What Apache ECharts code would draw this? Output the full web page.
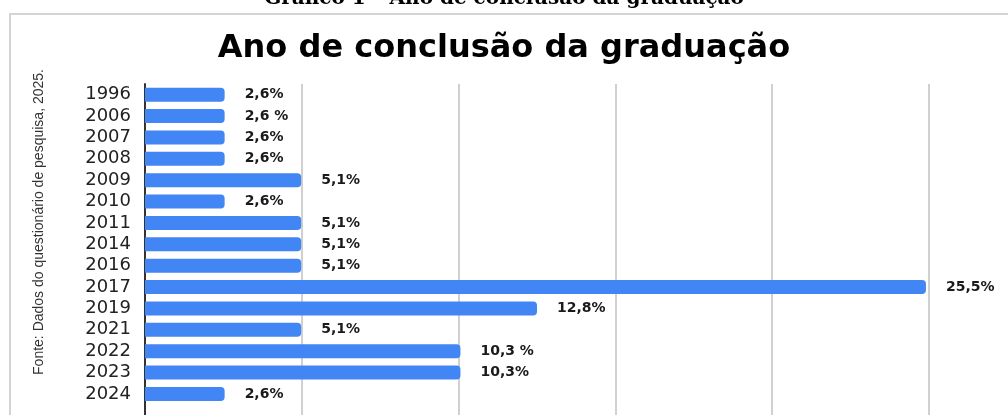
<!DOCTYPE html>
<html>
<head>
<meta charset="utf-8">
<script src="https://cdn.jsdelivr.net/npm/echarts@6/dist/echarts.min.js"></script>
<style>
html,body{margin:0;padding:0;background:#fff;overflow:hidden;}
#chart{width:1008px;height:440px;}
</style>
</head>
<body>
<div id="chart"></div>
<script>
const categories = ['1996','2006','2007','2008','2009','2010','2011','2014','2016','2017','2019','2021','2022','2023','2024'];
const values = [2.6, 2.6, 2.6, 2.6, 5.1, 2.6, 5.1, 5.1, 5.1, 25.5, 12.8, 5.1, 10.3, 10.3, 2.6];
const valueLabels = ['2,6%','2,6 %','2,6%','2,6%','5,1%','2,6%','5,1%','5,1%','5,1%','25,5%','12,8%','5,1%','10,3 %','10,3%','2,6%'];
const titleText = 'Ano de conclusão da graduação';
const captionBold = 'Gráfico 1';
const captionRest = ' – Ano de conclusão da graduação';
const sourceText = 'Fonte: Dados do questionário de pesquisa, 2025.';

const chart = echarts.init(document.getElementById('chart'), null, {renderer: 'canvas'});
chart.setOption({
  backgroundColor: '#ffffff',
  animation: false,
  title: [
    {
      text: titleText,
      left: 'center',
      top: 28,
      textStyle: {fontFamily: 'DejaVu Sans', fontWeight: 'bold', fontSize: 32, color: '#000'}
    },
    {
      text: '{b|' + captionBold + '}{r|' + captionRest + '}',
      left: 'center',
      top: -16,
      textStyle: {
        rich: {
          b: {fontFamily: 'DejaVu Serif', fontWeight: 'bold', fontSize: 20, color: '#000'},
          r: {fontFamily: 'DejaVu Serif', fontSize: 20, color: '#000'}
        }
      }
    }
  ],
  graphic: [
    {
      type: 'rect',
      shape: {x: 10, y: 14, width: 1010, height: 440},
      style: {fill: 'none', stroke: '#d4d4d4', lineWidth: 2},
      z: 0
    },
    {
      type: 'text',
      x: 39,
      y: 222,
      rotation: Math.PI / 2,
      style: {
        text: sourceText,
        font: '14px "Liberation Sans"',
        fill: '#333',
        textAlign: 'center',
        textVerticalAlign: 'middle'
      }
    }
  ],
  grid: {left: 145, right: 79, top: 84, height: 342, containLabel: false},
  xAxis: {
    type: 'value',
    min: 0,
    max: 25.6,
    interval: 5.12,
    axisLabel: {show: false},
    axisLine: {show: false},
    axisTick: {show: false},
    splitLine: {show: true, lineStyle: {color: '#d0d0d0', width: 2}}
  },
  yAxis: {
    type: 'category',
    data: categories,
    inverse: true,
    max: 15,
    axisLine: {show: true, lineStyle: {color: '#333', width: 2}},
    axisTick: {show: false},
    axisLabel: {
      interval: 0,
      margin: 14,
      fontFamily: 'DejaVu Sans',
      fontSize: 18,
      color: '#222',
      formatter: function (v) { return v == null ? '' : v; }
    }
  },
  series: [{
    type: 'bar',
    data: values,
    barWidth: 14,
    itemStyle: {color: '#4285f4', borderRadius: [0, 4, 4, 0]},
    label: {
      show: true,
      position: 'right',
      distance: 20,
      fontFamily: 'DejaVu Sans',
      fontWeight: 'bold',
      fontSize: 14,
      color: '#1a1a1a',
      formatter: function (p) { return valueLabels[p.dataIndex]; }
    }
  }]
});
</script>
</body>
</html>
